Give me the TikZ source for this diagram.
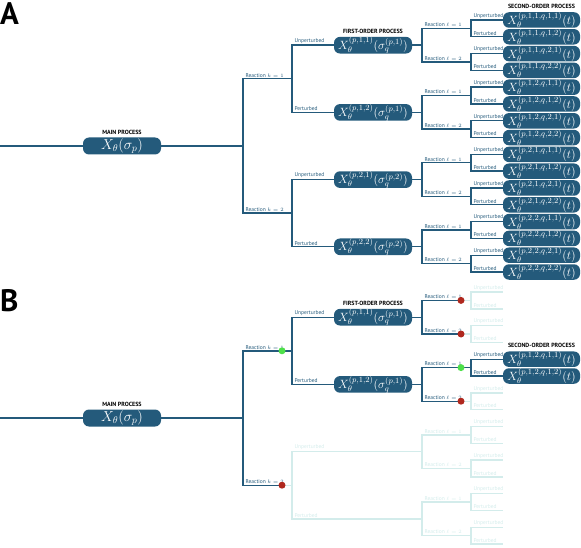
\documentclass[tikz,border=0pt]{standalone}
\usepackage[no-math]{fontspec}
\setmainfont{PT Sans}
\usetikzlibrary{positioning}
\definecolor{procblue}{HTML}{245A7B}
\definecolor{fadeblue}{HTML}{D3ECEB}
\definecolor{okgreen}{HTML}{4EE04A}
\definecolor{badred}{HTML}{B0281E}
\begin{document}
\begin{tikzpicture}[x=1pt, y=-1pt,
    ln/.style={draw=procblue, line width=1.4pt},
    fd/.style={draw=fadeblue, line width=1.4pt},
    proc/.style={fill=procblue, text=white, rounded corners=6pt, inner sep=0pt, minimum height=15.5pt},
    mp/.style={proc, minimum width=78pt, minimum height=17pt, font=\fontsize{14}{14}\selectfont},
    fo/.style={proc, minimum width=78pt, font=\fontsize{11.5}{12}\selectfont},
    so/.style={proc, minimum width=77pt, font=\fontsize{11.5}{12}\selectfont},
    hd/.style={font=\fontsize{6}{6}\selectfont\bfseries, inner sep=1pt},
    br/.style={font=\fontsize{5.5}{5.5}\selectfont, text=procblue, inner sep=0.8pt, anchor=south west, xshift=1.5pt, yshift=0.6pt},
    brf/.style={br, text=fadeblue},
    panel/.style={font=\fontsize{31}{31}\selectfont\bfseries, anchor=base west, inner sep=0pt},
    ok/.style={circle, fill=okgreen, inner sep=0pt, minimum size=7pt},
    bad/.style={circle, fill=badred, inner sep=0pt, minimum size=7pt},
  ]
  \useasboundingbox (0,0) rectangle (581,548);

  % A: the full tree
  \node[panel] (A-lab) at (0,25) {A};
  \node[mp] (A-m) at (122,146) {$X_\theta(\sigma_p)$};
  \node[hd, above=2pt of A-m] {MAIN PROCESS};
  \coordinate (A-in) at (0,146);
  \coordinate (A-j) at (243,146);
  \draw[ln] (A-in) -- (A-m) -- (A-j);
  \foreach \kx in {1,2} {
    \pgfmathsetmacro\yk{78.8+134.4*(\kx-1)}
    \coordinate (A-k\kx) at (243,\yk);
    \coordinate (A-K\kx) at (292,\yk);
    \draw[ln] (A-j) -- (A-k\kx) -- (A-K\kx);
    \node[br] at (A-k\kx) {Reaction $k=\kx$};
    \foreach \ax/\lab in {1/Unperturbed,2/Perturbed} {
      \pgfmathsetmacro\ya{45.2+67.2*(2*\kx+\ax-3)}
      \coordinate (A-a\kx\ax) at (292,\ya);
      \coordinate (A-g\kx\ax) at (422,\ya);
      \node[fo] (A-f\kx\ax) at (373,\ya) {$X_\theta^{(p,\kx,\ax)}(\sigma_q^{(p,\kx)})$};
      \draw[ln] (A-K\kx) -- (A-a\kx\ax) -- (A-f\kx\ax) -- (A-g\kx\ax);
      \node[br] at (A-a\kx\ax) {\lab};
      \foreach \lx in {1,2} {
        \pgfmathsetmacro\yl{28.4+33.6*(4*\kx+2*\ax+\lx-7)}
        \coordinate (A-l\kx\ax\lx) at (422,\yl);
        \coordinate (A-L\kx\ax\lx) at (471,\yl);
        \draw[ln] (A-g\kx\ax) -- (A-l\kx\ax\lx) -- (A-L\kx\ax\lx);
        \node[br] at (A-l\kx\ax\lx) {Reaction $\ell=\lx$};
        \foreach \bx/\lab in {1/Unperturbed,2/Perturbed} {
          \pgfmathsetmacro\yb{20+16.8*(8*\kx+4*\ax+2*\lx+\bx-15)}
          \coordinate (A-b\kx\ax\lx\bx) at (471,\yb);
          \node[so] (A-s\kx\ax\lx\bx) at (541.5,\yb) {$X_\theta^{(p,\kx,\ax,q,\lx,\bx)}(t)$};
          \draw[ln] (A-L\kx\ax\lx) -- (A-b\kx\ax\lx\bx) -- (A-s\kx\ax\lx\bx);
          \node[br] at (A-b\kx\ax\lx\bx) {\lab};
        }
      }
    }
  }
  \node[hd, above=2pt of A-f11] {FIRST-ORDER PROCESS};
  \node[hd, above=2pt of A-s1111] {SECOND-ORDER PROCESS};

  % B: pruned tree
  \node[panel] (B-lab) at (0,311) {B};
  \node[mp] (B-m) at (122,418) {$X_\theta(\sigma_p)$};
  \node[hd, above=2pt of B-m] {MAIN PROCESS};
  \coordinate (B-in) at (0,418);
  \coordinate (B-j) at (243,418);
  \draw[ln] (B-in) -- (B-m) -- (B-j);
  \coordinate (B-k1) at (243,350.8);
  \coordinate (B-d1) at (282,350.8);
  \coordinate (B-K1) at (292,350.8);
  \draw[ln] (B-j) -- (B-k1) -- (B-K1);
  \node[br] at (B-k1) {Reaction $k=1$};
  \coordinate (B-k2) at (243,485.2);
  \coordinate (B-d2) at (282,485.2);
  \coordinate (B-K2) at (292,485.2);
  \draw[ln] (B-j) -- (B-k2) -- (B-d2);
  \draw[fd] (B-d2) -- (B-K2);
  \node[br] at (B-k2) {Reaction $k=2$};

  \foreach \ax/\lab in {1/Unperturbed,2/Perturbed} {
    \pgfmathsetmacro\ya{317.2+67.2*(\ax-1)}
    \coordinate (B-a1\ax) at (292,\ya);
    \coordinate (B-g1\ax) at (422,\ya);
    \node[fo] (B-f1\ax) at (373,\ya) {$X_\theta^{(p,1,\ax)}(\sigma_q^{(p,1)})$};
    \draw[ln] (B-K1) -- (B-a1\ax) -- (B-f1\ax) -- (B-g1\ax);
    \node[br] at (B-a1\ax) {\lab};
    \foreach \lx in {1,2} {
      \pgfmathsetmacro\yl{300.4+33.6*(2*\ax+\lx-3)}
      \coordinate (B-l1\ax\lx) at (422,\yl);
      \coordinate (B-d1\ax\lx) at (461,\yl);
      \coordinate (B-L1\ax\lx) at (471,\yl);
      \draw[ln] (B-g1\ax) -- (B-l1\ax\lx) -- (B-d1\ax\lx);
      \node[br] at (B-l1\ax\lx) {Reaction $\ell=\lx$};
    }
  }
  \node[hd, above=2pt of B-f11] {FIRST-ORDER PROCESS};

  % kept branch
  \draw[ln] (B-d121) -- (B-L121);
  \foreach \bx/\lab in {1/Unperturbed,2/Perturbed} {
    \pgfmathsetmacro\yb{359.2+16.8*(\bx-1)}
    \coordinate (B-b121\bx) at (471,\yb);
    \node[so] (B-s121\bx) at (541.5,\yb) {$X_\theta^{(p,1,2,q,1,\bx)}(t)$};
    \draw[ln] (B-L121) -- (B-b121\bx) -- (B-s121\bx);
    \node[br] at (B-b121\bx) {\lab};
  }
  \node[hd, above=2pt of B-s1211] {SECOND-ORDER PROCESS};

  % dropped branches
  \foreach \ax/\lx in {1/1,1/2,2/2} {
    \pgfmathsetmacro\yl{300.4+33.6*(2*\ax+\lx-3)}
    \draw[fd] (B-d1\ax\lx) -- (B-L1\ax\lx);
    \foreach \bx/\lab in {1/Unperturbed,2/Perturbed} {
      \pgfmathsetmacro\yb{\yl-8.4+16.8*(\bx-1)}
      \coordinate (B-b1\ax\lx\bx) at (471,\yb);
      \coordinate (B-e1\ax\lx\bx) at (503,\yb);
      \draw[fd] (B-L1\ax\lx) -- (B-b1\ax\lx\bx) -- (B-e1\ax\lx\bx);
      \node[brf] at (B-b1\ax\lx\bx) {\lab};
    }
  }
  \foreach \ax/\lab in {1/Unperturbed,2/Perturbed} {
    \pgfmathsetmacro\ya{451.6+67.2*(\ax-1)}
    \coordinate (B-a2\ax) at (292,\ya);
    \coordinate (B-g2\ax) at (422,\ya);
    \draw[fd] (B-K2) -- (B-a2\ax) -- (B-g2\ax);
    \node[brf] at (B-a2\ax) {\lab};
    \foreach \lx in {1,2} {
      \pgfmathsetmacro\yl{434.8+33.6*(2*\ax+\lx-3)}
      \coordinate (B-l2\ax\lx) at (422,\yl);
      \coordinate (B-L2\ax\lx) at (471,\yl);
      \draw[fd] (B-g2\ax) -- (B-l2\ax\lx) -- (B-L2\ax\lx);
      \node[brf] at (B-l2\ax\lx) {Reaction $\ell=\lx$};
      \foreach \bx/\lab in {1/Unperturbed,2/Perturbed} {
        \pgfmathsetmacro\yb{\yl-8.4+16.8*(\bx-1)}
        \coordinate (B-b2\ax\lx\bx) at (471,\yb);
        \coordinate (B-e2\ax\lx\bx) at (503,\yb);
        \draw[fd] (B-L2\ax\lx) -- (B-b2\ax\lx\bx) -- (B-e2\ax\lx\bx);
        \node[brf] at (B-b2\ax\lx\bx) {\lab};
      }
    }
  }

  % decision dots
  \foreach \c in {B-d1,B-d121} \node[ok] at (\c) {};
  \foreach \c in {B-d2,B-d111,B-d112,B-d122} \node[bad] at (\c) {};
\end{tikzpicture}
\end{document}
